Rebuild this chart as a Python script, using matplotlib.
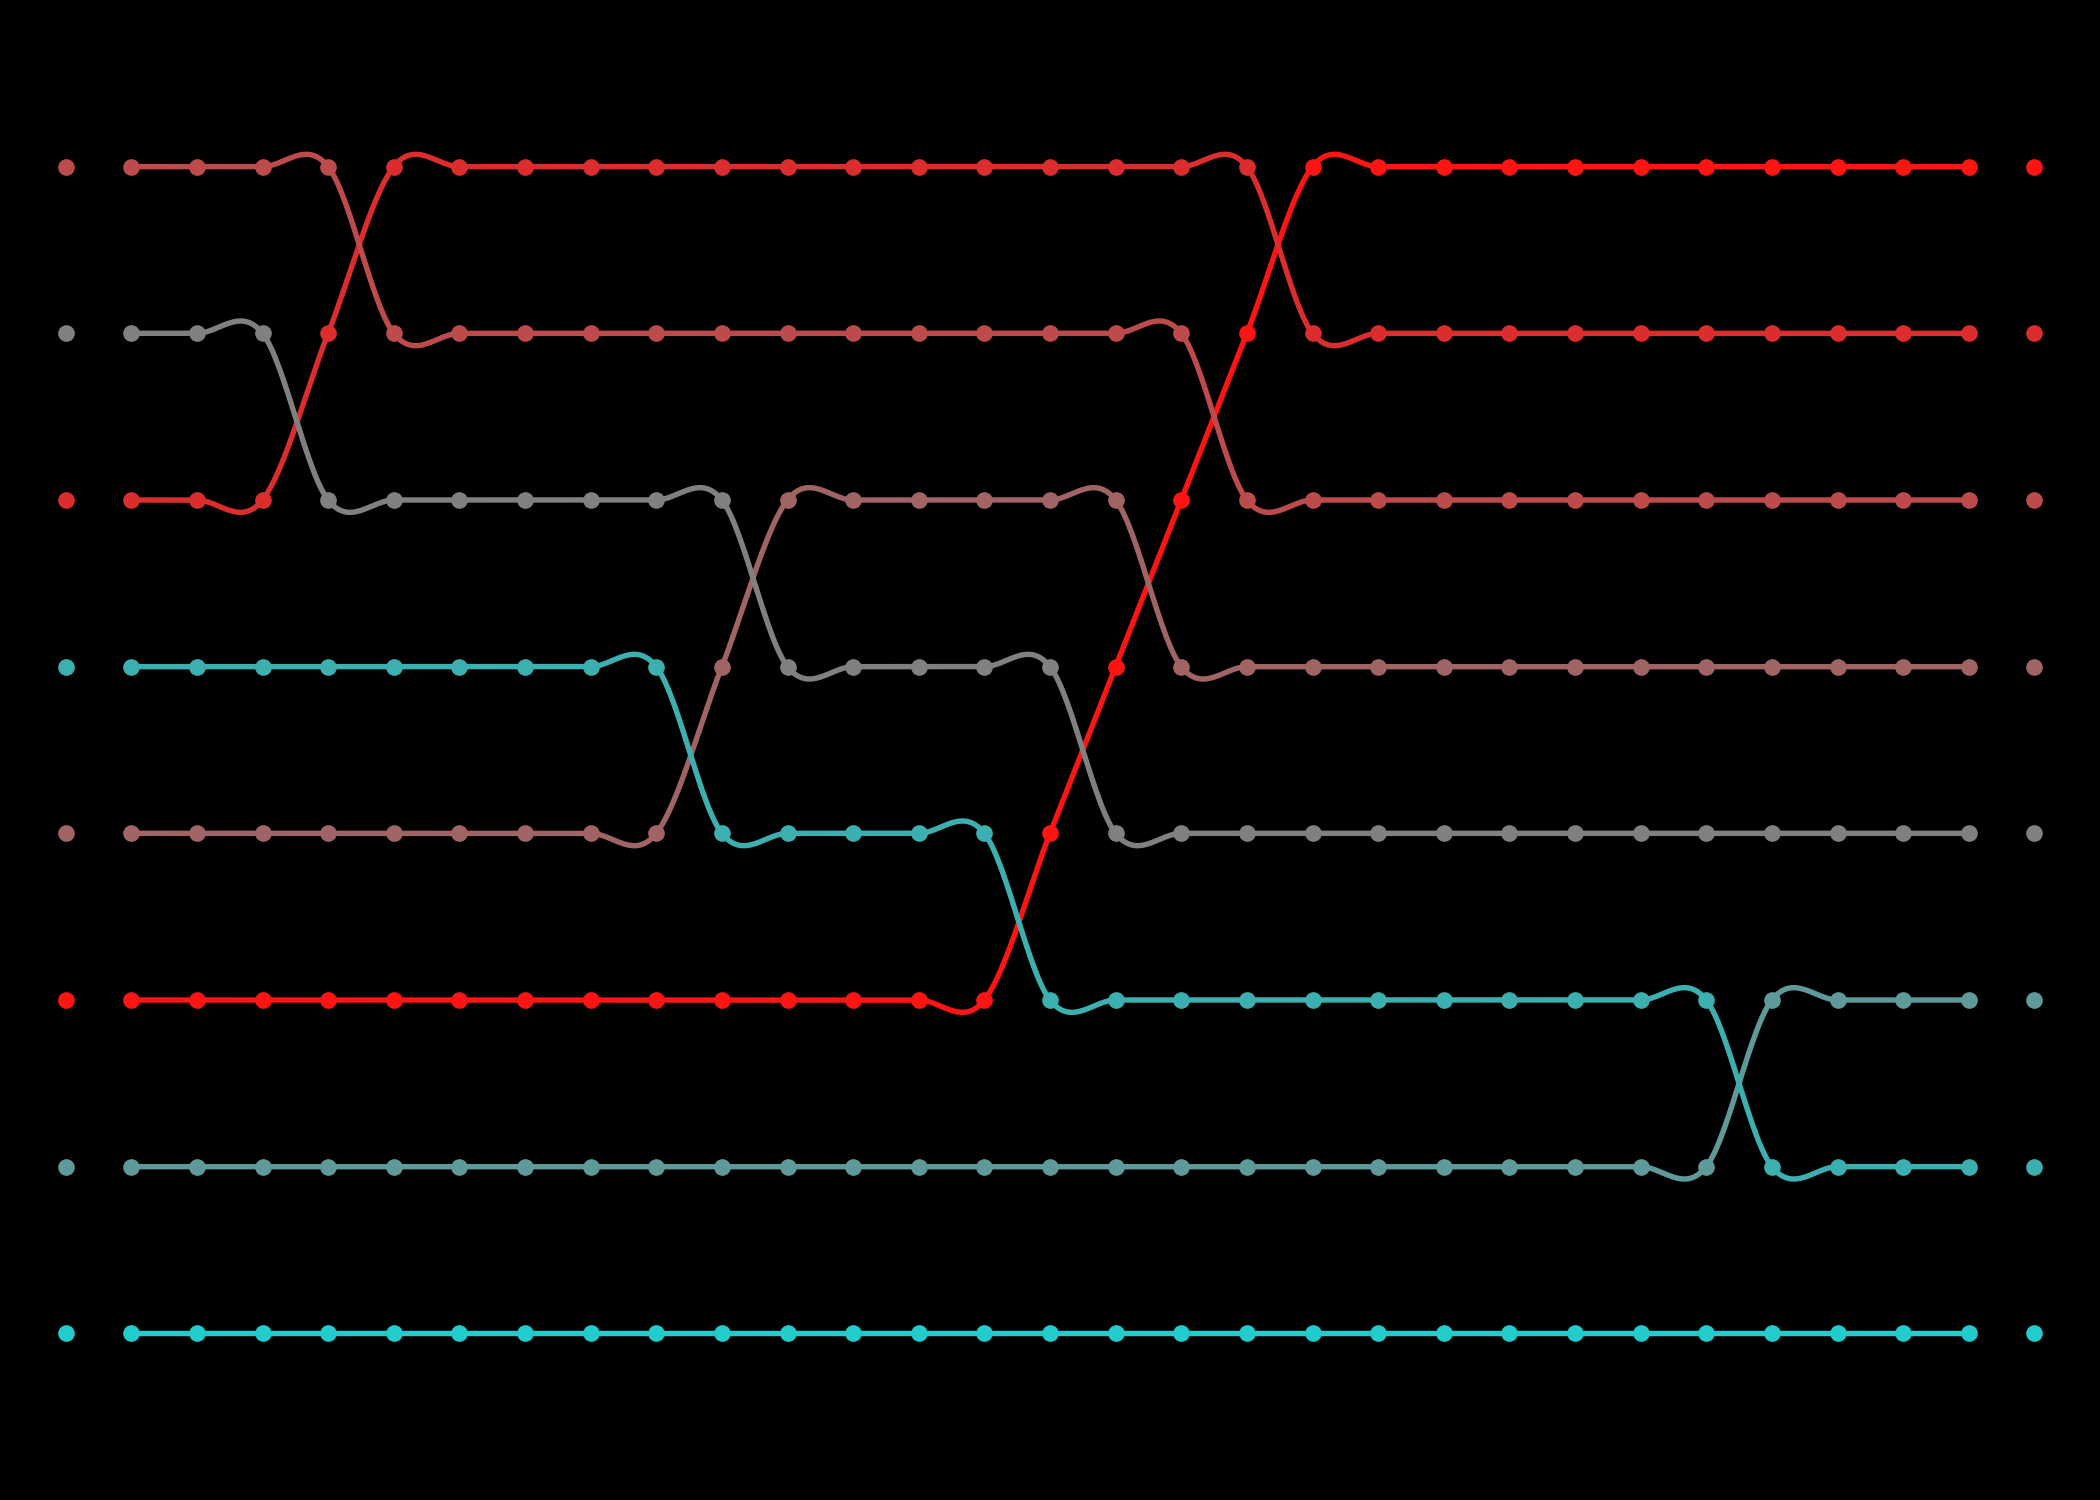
import numpy as np
import matplotlib
matplotlib.use("Agg")
import matplotlib.pyplot as plt

# rank of each series at each of the 29 steps (1 = top)
steps = list(range(29))

rank_a = [1, 1, 1, 1, 2, 2, 2, 2, 2, 2, 2, 2, 2, 2, 2, 2, 2, 3, 3, 3, 3, 3, 3, 3, 3, 3, 3, 3, 3]
rank_b = [2, 2, 2, 3, 3, 3, 3, 3, 3, 3, 4, 4, 4, 4, 4, 5, 5, 5, 5, 5, 5, 5, 5, 5, 5, 5, 5, 5, 5]
rank_c = [3, 3, 3, 2, 1, 1, 1, 1, 1, 1, 1, 1, 1, 1, 1, 1, 1, 1, 2, 2, 2, 2, 2, 2, 2, 2, 2, 2, 2]
rank_d = [4, 4, 4, 4, 4, 4, 4, 4, 4, 5, 5, 5, 5, 5, 6, 6, 6, 6, 6, 6, 6, 6, 6, 6, 6, 7, 7, 7, 7]
rank_e = [5, 5, 5, 5, 5, 5, 5, 5, 5, 4, 3, 3, 3, 3, 3, 3, 4, 4, 4, 4, 4, 4, 4, 4, 4, 4, 4, 4, 4]
rank_f = [6, 6, 6, 6, 6, 6, 6, 6, 6, 6, 6, 6, 6, 6, 5, 4, 3, 2, 1, 1, 1, 1, 1, 1, 1, 1, 1, 1, 1]
rank_g = [7, 7, 7, 7, 7, 7, 7, 7, 7, 7, 7, 7, 7, 7, 7, 7, 7, 7, 7, 7, 7, 7, 7, 7, 7, 6, 6, 6, 6]
rank_h = [8, 8, 8, 8, 8, 8, 8, 8, 8, 8, 8, 8, 8, 8, 8, 8, 8, 8, 8, 8, 8, 8, 8, 8, 8, 8, 8, 8, 8]

series = [rank_a, rank_b, rank_c, rank_d, rank_e, rank_f, rank_g, rank_h]
colors = ["#bd4b4b", "#808080", "#db2d2d", "#3cb0b0",
          "#a06464", "#ff1414", "#5f9a9a", "#22cccc"]


def smooth(x, y, n=30):
    # Catmull-Rom curve through the points
    x = np.asarray(x, float)
    y = np.asarray(y, float)
    m = np.gradient(y, x)
    xs, ys = [], []
    for i in range(len(x) - 1):
        h = x[i + 1] - x[i]
        t = np.linspace(0, 1, n, endpoint=(i == len(x) - 2))
        h00 = 2 * t ** 3 - 3 * t ** 2 + 1
        h10 = t ** 3 - 2 * t ** 2 + t
        h01 = -2 * t ** 3 + 3 * t ** 2
        h11 = t ** 3 - t ** 2
        xs.append(x[i] + t * h)
        ys.append(h00 * y[i] + h10 * h * m[i] + h01 * y[i + 1] + h11 * h * m[i + 1])
    return np.concatenate(xs), np.concatenate(ys)


fig = plt.figure(figsize=(7, 5), dpi=300, facecolor="black")
ax = fig.add_axes([0, 0, 1, 1])
ax.set_facecolor("black")

# drawn from the bottom series up so the upper ones sit on top
for ranks, col in reversed(list(zip(series, colors))):
    sx, sy = smooth(steps, ranks)
    ax.plot(sx, sy, color=col, lw=1.3, solid_capstyle="round")
    ax.plot(steps, ranks, "o", color=col, ms=4, mec="none")
    ax.plot([steps[0] - 1], [ranks[0]], "o", color=col, ms=4, mec="none")
    ax.plot([steps[-1] + 1], [ranks[-1]], "o", color=col, ms=4, mec="none")

ax.set_xlim(-2, 30)
ax.set_ylim(9, 0)
ax.axis("off")

fig.savefig("out.png", dpi=300, facecolor="black")
